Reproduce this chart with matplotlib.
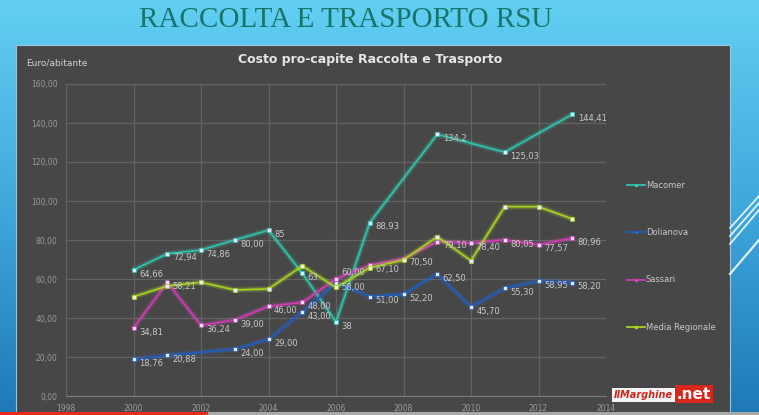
import numpy as np
import matplotlib
matplotlib.use('Agg')
import matplotlib.pyplot as plt
from matplotlib.patches import Rectangle
from matplotlib.colors import LinearSegmentedColormap

# Data (None = no value that year)
years = [2000, 2001, 2002, 2003, 2004, 2005, 2006, 2007, 2008, 2009, 2010, 2011, 2012, 2013]
macomer = [64.66, 72.94, 74.86, 80.00, 85, 63, 38, 88.93, None, 134.2, None, 125.03, None, 144.41]
macomer_lbl = ['64,66', '72,94', '74,86', '80,00', '85', '63', '38', '88,93', '', '134,2', '', '125,03', '', '144,41']
dolianova = [18.76, 20.88, None, 24.00, 29.00, 43.00, 58.00, 51.00, 52.20, 62.50, 45.70, 55.30, 58.95, 58.20]
dolianova_lbl = ['18,76', '20,88', '', '24,00', '29,00', '43,00', '58,00', '51,00', '52,20', '62,50', '45,70', '55,30', '58,95', '58,20']
sassari = [34.81, 58.21, 36.24, 39.00, 46.00, 48.00, 60.00, 67.10, 70.50, 79.10, 78.40, 80.05, 77.57, 80.96]
sassari_lbl = ['34,81', '58,21', '36,24', '39,00', '46,00', '48,00', '60,00', '67,10', '70,50', '79,10', '78,40', '80,05', '77,57', '80,96']
media_reg = [50.9, 56.4, 58.3, 54.4, 54.9, 66.7, 55.7, 65.8, 69.7, 81.7, 69.4, 97.1, 97.1, 90.8]

series_names = ['Macomer', 'Dolianova', 'Sassari', 'Media Regionale']
colors = ['#2cc4ad', '#1f5cc0', '#d03ab4', '#a6d21e']
glow = ['#3fe0c8', '#2d6fe0', '#f050d0', '#c8f030']

W, H = 759, 415
fig = plt.figure(figsize=(W / 100, H / 100), dpi=100)

# slide background: light blue gradient
bg = fig.add_axes([0, 0, 1, 1], zorder=-10)
grad = np.linspace(0, 1, 256).reshape(-1, 1)
cmap = LinearSegmentedColormap.from_list('sl', ['#62cff2', '#3fa8dc', '#1e78b8'])
bg.imshow(grad, aspect='auto', cmap=cmap, extent=[0, W, H, 0])
bg.set_xlim(0, W)
bg.set_ylim(H, 0)
bg.axis('off')

# white stripes on the right
for (x0, y0, x1, y1, lw) in [(730, 228, 759, 196, 1.3), (730, 236, 759, 203, 1.3),
                             (730, 244, 759, 210, 1.3), (730, 274, 759, 240, 1.6)]:
    bg.plot([x0, x1], [y0, y1], color='white', lw=lw, alpha=0.85)

# chart panel
bg.add_patch(Rectangle((16, 45), 714, 367, facecolor='#474747', edgecolor='#9ac6de', lw=0.8))
# bottom bar
bg.add_patch(Rectangle((0, 411.5), 208, 4, facecolor='#e82a20', edgecolor='none'))
bg.add_patch(Rectangle((208, 411.5), W - 208, 4, facecolor='#a9a9a9', edgecolor='none'))

fig.text(0.455, 0.952, 'RACCOLTA E TRASPORTO RSU', ha='center', va='center',
         fontsize=21, color='#17766c', family='Liberation Serif')
fig.text(370 / W, 1 - 60 / H, 'Costo pro-capite Raccolta e Trasporto', ha='center', va='center',
         fontsize=9, color='#e6e6e6', fontweight='bold')
fig.text(26 / W, 1 - 63 / H, 'Euro/abitante', ha='left', va='center', fontsize=6.5, color='#d0d0d0')

ax = fig.add_axes([66 / W, 1 - 396 / H, (606 - 66) / W, (396 - 84) / H])
ax.set_facecolor('none')
ax.set_xlim(1998, 2014)
ax.set_ylim(0, 160)
ax.set_xticks(range(1998, 2015, 2))
ax.set_yticks(range(0, 161, 20))
ax.set_yticklabels(['%d,00' % v for v in range(0, 161, 20)])
ax.tick_params(colors='#9a9a9a', labelsize=5.5, length=0, pad=6)
ax.grid(True, color='#636363', lw=0.9)
for s in ['top', 'right', 'left']:
    ax.spines[s].set_visible(False)
ax.spines['bottom'].set_color('#7a7a7a')

all_series = [macomer, dolianova, sassari, media_reg]
for i, vals in enumerate(all_series):
    xs = [x for x, v in zip(years, vals) if v is not None]
    ys = [v for v in vals if v is not None]
    for lw, a in [(4.5, 0.1), (3, 0.18)]:
        ax.plot(xs, ys, color=glow[i], lw=lw, alpha=a, solid_capstyle='round', zorder=2 + i)
    ax.plot(xs, ys, color=colors[i], lw=1.2, marker='s', ms=2.3, mfc='#e8e8ff',
            mec=colors[i], mew=0.5, zorder=3 + i, label=series_names[i])

for vals, lbls in [(macomer, macomer_lbl), (dolianova, dolianova_lbl), (sassari, sassari_lbl)]:
    for x, v, t in zip(years, vals, lbls):
        if v is None or not t:
            continue
        off = -3
        if vals is sassari and x == 2006:
            off = 5
        ax.annotate(t, (x, v), xytext=(4, off), textcoords='offset points',
                    fontsize=6, color='#c8c8c8', va='center', zorder=10)

# legend
leg_y = [185, 232, 280, 327]
for i, name in enumerate(series_names):
    yy = 1 - leg_y[i] / H
    fig.lines.append(plt.Line2D([627 / W, 645 / W], [yy, yy], color=colors[i], lw=1.3,
                                transform=fig.transFigure))
    fig.lines.append(plt.Line2D([636 / W], [yy], color=colors[i], marker='s', ms=2,
                                mfc='#e8e8ff', mec=colors[i], transform=fig.transFigure))
    fig.text(646 / W, yy, name, ha='left', va='center', fontsize=6, color='#c8c8c8')

# logo
fig.text(614 / W, 1 - 395 / H, 'IlMarghine', ha='left', va='center', fontsize=7,
         color='#c8281e', fontstyle='italic', fontweight='bold',
         bbox=dict(boxstyle='square,pad=0.2', facecolor='#f4f4f4', edgecolor='none'))
fig.text(677 / W, 1 - 394 / H, '.net', ha='left', va='center', fontsize=11,
         color='white', fontweight='bold',
         bbox=dict(boxstyle='square,pad=0.1', facecolor='#d8281e', edgecolor='none'))

fig.savefig('out.png', dpi=100, facecolor=fig.get_facecolor())
